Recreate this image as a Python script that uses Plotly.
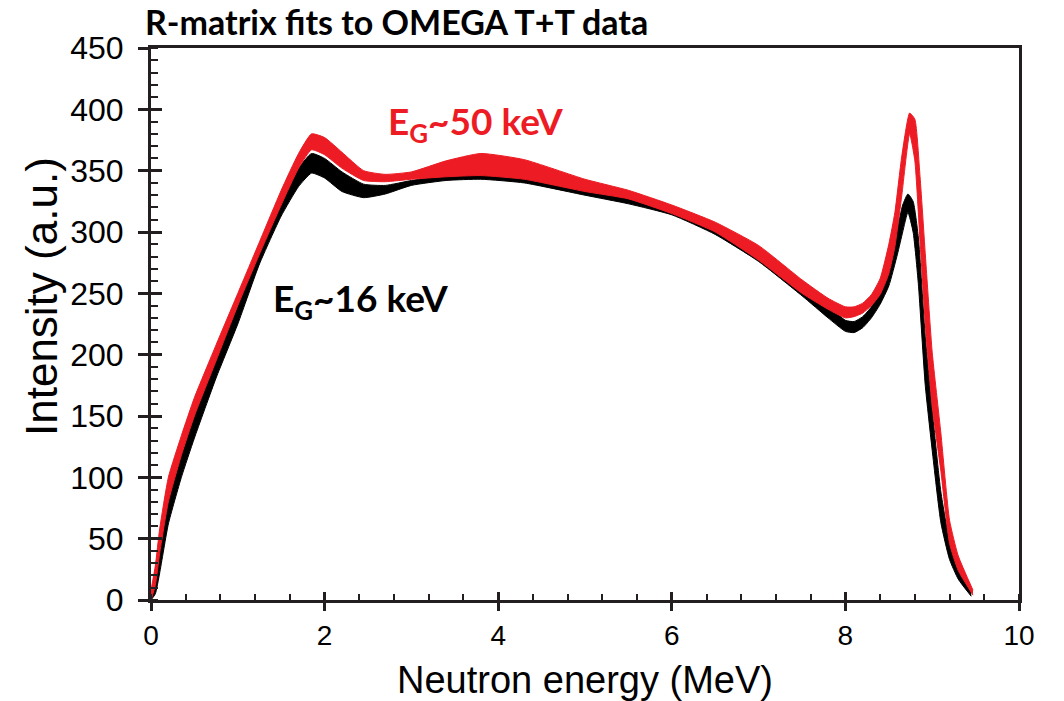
import plotly.graph_objects as go

# ---- data ----
black_E = [0.0, 0.05, 0.1, 0.2, 0.35, 0.5, 0.75, 1.0, 1.25, 1.5, 1.7, 1.85, 2.0, 2.2, 2.45, 2.7,
           3.0, 3.4, 3.8, 4.3, 5.0, 5.5, 6.0, 6.5, 7.0, 7.5, 7.8, 8.0, 8.1, 8.2, 8.3, 8.4, 8.5,
           8.6, 8.66, 8.72, 8.78, 8.84, 8.92, 9.0, 9.1, 9.2, 9.3, 9.45]
black_lo = [0, 5, 22, 62, 100, 132, 181, 225, 274, 313, 337, 348, 344, 333, 328, 331,
            338, 342, 343, 340, 330, 323, 314, 298, 276, 248, 230, 219, 218, 222, 230, 241, 256,
            282, 300, 316, 300, 258, 175, 122, 63, 33, 17, 3]
black_hi = [0, 25, 45, 85, 120, 150, 197, 240, 286, 326, 352, 364, 360, 349, 339, 338,
            342, 346, 347, 344, 335, 329, 321, 307, 286, 258, 240, 228, 227, 231, 239, 252, 274,
            303, 322, 331, 325, 296, 215, 155, 88, 48, 27, 6]

red_E = [0.0, 0.05, 0.1, 0.2, 0.35, 0.5, 0.75, 1.0, 1.25, 1.5, 1.7, 1.85, 2.0, 2.2, 2.45, 2.7,
         3.0, 3.4, 3.8, 4.3, 5.0, 5.5, 6.0, 6.5, 7.0, 7.5, 7.8, 8.0, 8.1, 8.2, 8.3, 8.4, 8.5,
         8.57, 8.65, 8.74, 8.8, 8.86, 8.93, 9.0, 9.1, 9.2, 9.3, 9.47]
red_lo = [0, 12, 38, 80, 118, 150, 195, 240, 282, 322, 352, 367, 363, 352, 342, 341,
          343, 345, 346, 343, 333, 327, 315, 300, 277, 250, 237, 230, 231, 234, 240, 249, 266,
          288, 330, 380, 358, 292, 215, 158, 105, 46, 24, 4]
red_hi = [8, 28, 58, 100, 134, 165, 208, 250, 292, 334, 364, 380, 377, 365, 350, 347,
          349, 358, 364, 359, 343, 334, 322, 308, 289, 261, 246, 239, 239, 242, 249, 262, 290,
          316, 362, 397, 392, 345, 272, 202, 136, 65, 36, 8]

x_major = [0, 2, 4, 6, 8, 10]
y_major = [0, 50, 100, 150, 200, 250, 300, 350, 400, 450]

RED = "#ED1C24"
BLK = "#000000"
AX = "#231F20"

# plot area in pixels
L, R, T, B = 151, 1019, 48, 600
W, H = 1064, 701


def px_x(p):
    return (p - L) / (R - L)


def px_y(p):
    return (B - p) / (B - T)


fig = go.Figure()


def band(E, lo, hi, color, name):
    fig.add_trace(go.Scatter(x=E, y=lo, mode="lines", line=dict(color=color, width=1, shape="spline", smoothing=0.5),
                             showlegend=False, hoverinfo="skip", name=name + " lo"))
    fig.add_trace(go.Scatter(x=E, y=hi, mode="lines", line=dict(color=color, width=1, shape="spline", smoothing=0.5),
                             fill="tonexty", fillcolor=color, showlegend=False, name=name))


band(black_E, black_lo, black_hi, BLK, "E_G~16 keV")
band(red_E, red_lo, red_hi, RED, "E_G~50 keV")

# invisible trace to activate overlay axes
fig.add_trace(go.Scatter(x=[0], y=[0], xaxis="x2", yaxis="y2", mode="markers",
                         marker=dict(opacity=0), showlegend=False, hoverinfo="skip"))

tickfont = "Liberation Sans, Arial, sans-serif"
boldfont = "Lato, Open Sans, sans-serif"

fig.update_layout(
    width=W, height=H,
    margin=dict(l=L, r=W - R, t=T, b=H - B),
    paper_bgcolor="white", plot_bgcolor="white",
    showlegend=False,
    xaxis=dict(range=[0, 10], tickvals=x_major, ticks="outside", ticklen=8, tickwidth=2.5, tickcolor=AX,
               showline=True, linewidth=3, linecolor=AX, mirror=True, showgrid=False, zeroline=False,
               tickfont=dict(family=tickfont, size=28, color="black"),
               minor=dict(dtick=0.4, tick0=0, ticks="inside", ticklen=6, tickwidth=2, tickcolor=AX)),
    yaxis=dict(range=[0, 450], tickvals=y_major, ticks="outside", ticklen=10, tickwidth=2.5, tickcolor=AX,
               showline=True, linewidth=3, linecolor=AX, mirror=True, showgrid=False, zeroline=False,
               ticklabelstandoff=8,
               tickfont=dict(family=tickfont, size=32, color="black"),
               minor=dict(dtick=10, tick0=0, ticks="inside", ticklen=7, tickwidth=2, tickcolor=AX)),
    xaxis2=dict(overlaying="x", anchor="y", range=[0, 10], tickvals=x_major, ticks="inside", ticklen=8,
                tickwidth=2.5, tickcolor=AX, showticklabels=False, showgrid=False, zeroline=False, showline=False),
    yaxis2=dict(overlaying="y", anchor="x", side="left", range=[0, 450], tickvals=y_major, ticks="inside",
                ticklen=11, tickwidth=2.5, tickcolor=AX, showticklabels=False, showgrid=False, zeroline=False,
                showline=False),
    title=dict(text="<b>R-matrix fits to OMEGA T+T data</b>", xref="container", yref="container",
               x=145 / W, xanchor="left", y=1 - 23 / H, yanchor="middle",
               font=dict(family=boldfont, size=34, color="black")),
)

fig.add_annotation(text="Neutron energy (MeV)", xref="paper", yref="paper", x=px_x(585), y=px_y(680),
                   xanchor="center", yanchor="middle", showarrow=False,
                   font=dict(family=tickfont, size=38, color="black"))
fig.add_annotation(text="Intensity (a.u.)", xref="paper", yref="paper", x=px_x(41), y=px_y(297),
                   xanchor="center", yanchor="middle", showarrow=False, textangle=-90,
                   font=dict(family=tickfont, size=44, color="black"))
fig.add_annotation(text="<b>E<sub>G</sub>~50 keV</b>", xref="paper", yref="paper", x=px_x(386), y=px_y(124),
                   xanchor="left", yanchor="middle", showarrow=False,
                   font=dict(family=boldfont, size=37, color=RED))
fig.add_annotation(text="<b>E<sub>G</sub>~16 keV</b>", xref="paper", yref="paper", x=px_x(271), y=px_y(300),
                   xanchor="left", yanchor="middle", showarrow=False,
                   font=dict(family=boldfont, size=37, color=BLK))

fig.write_html("out.html")
